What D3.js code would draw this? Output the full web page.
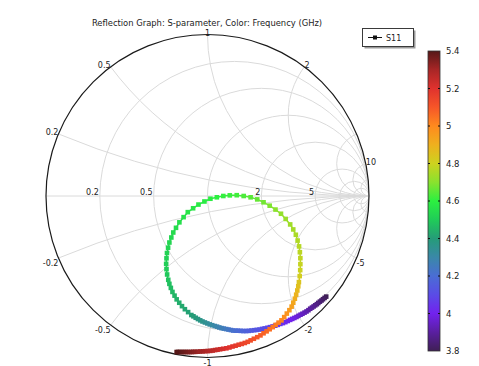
<!DOCTYPE html>
<html>
<head>
<meta charset="utf-8">
<script src="https://cdn.jsdelivr.net/npm/d3@7"></script>
<style>
  body { margin: 0; background: #fff; }
  text { font-family: "DejaVu Sans", sans-serif; fill: #222; }
</style>
</head>
<body>
<div id="chart"></div>
<script>
// frequency (GHz) of every sample
var freq = [
  3.800, 3.809, 3.819, 3.828, 3.837, 3.847, 3.856, 3.865, 3.874, 3.884,
  3.893, 3.904, 3.914, 3.925, 3.936, 3.947, 3.957, 3.968, 3.979, 3.989,
  4.000, 4.009, 4.019, 4.028, 4.038, 4.047, 4.057, 4.066, 4.076, 4.085,
  4.095, 4.104, 4.114, 4.123, 4.133, 4.142, 4.152, 4.161, 4.171, 4.180,
  4.189, 4.198, 4.208, 4.219, 4.229, 4.240, 4.251, 4.261, 4.272, 4.283,
  4.293, 4.305, 4.316, 4.328, 4.340, 4.351, 4.363, 4.374, 4.386, 4.397,
  4.404, 4.411, 4.419, 4.427, 4.435, 4.443, 4.450, 4.458, 4.466, 4.474,
  4.482, 4.491, 4.501, 4.506, 4.512, 4.518, 4.523, 4.529, 4.534, 4.540,
  4.545, 4.552, 4.559, 4.566, 4.573, 4.580, 4.587, 4.593, 4.600, 4.607,
  4.614, 4.622, 4.635, 4.648, 4.661, 4.674, 4.687, 4.700, 4.713, 4.724,
  4.733, 4.741, 4.749, 4.757, 4.765, 4.773, 4.781, 4.789, 4.797, 4.816,
  4.840, 4.857, 4.874, 4.892, 4.908, 4.924, 4.940, 4.956, 4.971, 4.988,
  5.003, 5.015, 5.026, 5.038, 5.050, 5.062, 5.073, 5.085, 5.097, 5.109,
  5.121, 5.131, 5.141, 5.151, 5.161, 5.171, 5.182, 5.192, 5.202, 5.215,
  5.227, 5.237, 5.247, 5.257, 5.267, 5.276, 5.286, 5.296, 5.306, 5.316,
  5.325, 5.333, 5.340, 5.348, 5.355, 5.363, 5.370, 5.378, 5.385, 5.393,
  5.400
];
// S11 reflection coefficient, real and imaginary parts
var s11Re = [
  0.735, 0.725, 0.715, 0.706, 0.696, 0.686, 0.677, 0.667, 0.657, 0.647,
  0.636, 0.625, 0.613, 0.601, 0.588, 0.576, 0.563, 0.551, 0.538, 0.525,
  0.512, 0.497, 0.482, 0.467, 0.451, 0.435, 0.419, 0.403, 0.387, 0.371,
  0.354, 0.338, 0.322, 0.305, 0.289, 0.272, 0.255, 0.239, 0.222, 0.206,
  0.189, 0.174, 0.159, 0.145, 0.130, 0.116, 0.101, 0.087, 0.073, 0.059,
  0.045, 0.029, 0.014, -0.001, -0.016, -0.031, -0.045, -0.059, -0.073, -0.087,
  -0.100, -0.120, -0.140, -0.158, -0.175, -0.191, -0.204, -0.217, -0.227, -0.236,
  -0.243, -0.250, -0.254, -0.256, -0.254, -0.251, -0.244, -0.236, -0.224, -0.212,
  -0.195, -0.174, -0.148, -0.122, -0.089, -0.056, -0.019, 0.018, 0.058, 0.098,
  0.138, 0.181, 0.224, 0.267, 0.308, 0.347, 0.385, 0.421, 0.455, 0.484,
  0.512, 0.531, 0.547, 0.558, 0.567, 0.572, 0.575, 0.575, 0.574, 0.571,
  0.566, 0.562, 0.556, 0.549, 0.541, 0.531, 0.521, 0.507, 0.491, 0.475,
  0.458, 0.440, 0.422, 0.404, 0.385, 0.366, 0.347, 0.328, 0.308, 0.287,
  0.267, 0.249, 0.231, 0.212, 0.193, 0.174, 0.155, 0.136, 0.117, 0.097,
  0.078, 0.062, 0.047, 0.032, 0.017, 0.001, -0.014, -0.030, -0.045, -0.061,
  -0.076, -0.088, -0.099, -0.111, -0.123, -0.135, -0.146, -0.158, -0.170, -0.182,
  -0.191
];
var s11Im = [
  -0.623, -0.631, -0.639, -0.647, -0.654, -0.662, -0.670, -0.677, -0.684, -0.691,
  -0.698, -0.707, -0.715, -0.722, -0.729, -0.735, -0.742, -0.749, -0.755, -0.761,
  -0.767, -0.774, -0.781, -0.787, -0.792, -0.798, -0.803, -0.808, -0.812, -0.816,
  -0.820, -0.823, -0.827, -0.829, -0.831, -0.833, -0.835, -0.836, -0.836, -0.835,
  -0.834, -0.834, -0.833, -0.830, -0.827, -0.824, -0.821, -0.818, -0.814, -0.809,
  -0.805, -0.800, -0.795, -0.789, -0.783, -0.777, -0.770, -0.762, -0.754, -0.745,
  -0.737, -0.719, -0.701, -0.682, -0.661, -0.640, -0.617, -0.594, -0.569, -0.544,
  -0.519, -0.486, -0.453, -0.420, -0.386, -0.353, -0.320, -0.288, -0.257, -0.226,
  -0.197, -0.163, -0.131, -0.100, -0.076, -0.053, -0.034, -0.017, -0.008, 0.000,
  0.004, 0.005, 0.000, -0.008, -0.021, -0.039, -0.060, -0.084, -0.110, -0.142,
  -0.176, -0.207, -0.240, -0.276, -0.312, -0.348, -0.385, -0.422, -0.459, -0.496,
  -0.533, -0.559, -0.585, -0.611, -0.636, -0.661, -0.685, -0.707, -0.728, -0.750,
  -0.770, -0.784, -0.798, -0.812, -0.825, -0.838, -0.850, -0.863, -0.874, -0.884,
  -0.894, -0.903, -0.910, -0.916, -0.921, -0.927, -0.932, -0.938, -0.943, -0.946,
  -0.949, -0.952, -0.954, -0.957, -0.959, -0.960, -0.961, -0.962, -0.963, -0.964,
  -0.965, -0.965, -0.966, -0.966, -0.966, -0.966, -0.966, -0.966, -0.966, -0.966,
  -0.966
];

// Smith chart grid values and the labels that are shown
var resistanceValues = [0.2, 0.5, 1, 2, 5, 10, 20];
var reactanceValues = [0.2, 0.5, 1, 2, 5, 10, 20];
var realAxisLabels = [0.2, 0.5, 2, 5];
var reactanceLabels = [0.2, 0.5, 1, 2, 10, -0.2, -0.5, -1, -2, -5];
var colorTicks = [3.8, 4, 4.2, 4.4, 4.6, 4.8, 5, 5.2, 5.4];

// colour table (frequency -> colour)
var cmapFreq = [3.8, 3.9, 4.0, 4.1, 4.2, 4.3, 4.4, 4.5, 4.6, 4.7, 4.8, 4.9, 5.0, 5.1, 5.2, 5.3, 5.4];
var cmapColor = ["#3f1f55", "#5a1fa0", "#7222ee", "#5a4ce6", "#4a6dd4", "#3a88a8", "#259c78", "#20cc58",
  "#2cf040", "#8ae22e", "#cdd21f", "#eeb01e", "#ff8a1e", "#f65628", "#e0322e", "#a82626", "#561818"];

var svgWidth = 479;
var svgHeight = 366;
var cx = 207.5, cy = 196, R = 161.5;

var svg = d3.select("#chart")
  .append("svg")
  .attr("width", svgWidth)
  .attr("height", svgHeight);

var xScale = d3.scaleLinear().domain([-1, 1]).range([cx - R, cx + R]);
var yScale = d3.scaleLinear().domain([-1, 1]).range([cy + R, cy - R]);
var rScale = d3.scaleLinear().domain([0, 1]).range([0, R]);

var color = d3.scaleLinear().domain(cmapFreq).range(cmapColor).interpolate(d3.interpolateRgb);

// title
svg.append("text")
  .attr("x", 207)
  .attr("y", 26)
  .attr("text-anchor", "middle")
  .style("font-size", "8.4px")
  .text("Reflection Graph: S-parameter, Color: Frequency (GHz)");

svg.append("clipPath")
  .attr("id", "unit")
  .append("circle")
  .attr("cx", xScale(0))
  .attr("cy", yScale(0))
  .attr("r", rScale(1));

var grid = svg.append("g")
  .attr("clip-path", "url(#unit)")
  .attr("fill", "none")
  .attr("stroke", "#dadada")
  .attr("stroke-width", 1);

// real axis
grid.append("line")
  .attr("x1", xScale(-1)).attr("x2", xScale(1))
  .attr("y1", yScale(0)).attr("y2", yScale(0));

// constant resistance circles
grid.selectAll(".rcirc")
  .data(resistanceValues)
  .enter()
  .append("circle")
  .attr("cx", d => xScale(d / (1 + d)))
  .attr("cy", yScale(0))
  .attr("r", d => rScale(1 / (1 + d)));

// constant reactance arcs (both signs)
var xs = reactanceValues.concat(reactanceValues.map(d => -d));
grid.selectAll(".xcirc")
  .data(xs)
  .enter()
  .append("circle")
  .attr("cx", xScale(1))
  .attr("cy", d => yScale(1 / d))
  .attr("r", d => rScale(1 / Math.abs(d)));

// outer boundary
svg.append("circle")
  .attr("cx", xScale(0))
  .attr("cy", yScale(0))
  .attr("r", rScale(1))
  .attr("fill", "none")
  .attr("stroke", "#1a1a1a")
  .attr("stroke-width", 1.2);

// labels on the real axis
svg.selectAll(".rlab")
  .data(realAxisLabels)
  .enter()
  .append("text")
  .attr("x", d => xScale((d - 1) / (d + 1)) - 1)
  .attr("y", yScale(0) - 1)
  .attr("text-anchor", "end")
  .style("font-size", "8px")
  .text(d => d);

// reactance labels round the edge
svg.selectAll(".xlab")
  .data(reactanceLabels)
  .enter()
  .append("text")
  .attr("x", function(d) {
    return xScale((d * d - 1) / (d * d + 1));
  })
  .attr("y", function(d) {
    var py = yScale(2 * d / (d * d + 1));
    return d > 0 ? py + 1 : py + 8;
  })
  .attr("text-anchor", function(d) {
    var re = (d * d - 1) / (d * d + 1);
    if (re < -0.05) return "end";
    if (re > 0.05) return "start";
    return "middle";
  })
  .style("font-size", "8px")
  .text(d => d);

// S11 trace: thin coloured line plus square markers
var pts = freq.map(function(f, i) {
  return { f: f, re: s11Re[i], im: s11Im[i] };
});

var trace = svg.append("g");
trace.selectAll("line")
  .data(pts.slice(1))
  .enter()
  .append("line")
  .attr("x1", (d, i) => xScale(pts[i].re))
  .attr("y1", (d, i) => yScale(pts[i].im))
  .attr("x2", d => xScale(d.re))
  .attr("y2", d => yScale(d.im))
  .attr("stroke", (d, i) => color((d.f + pts[i].f) / 2))
  .attr("stroke-width", 1.5);

var ms = 4.6;
trace.selectAll("rect")
  .data(pts)
  .enter()
  .append("rect")
  .attr("x", d => xScale(d.re) - ms / 2)
  .attr("y", d => yScale(d.im) - ms / 2)
  .attr("width", ms)
  .attr("height", ms)
  .attr("fill", d => color(d.f));

// legend
var legend = svg.append("g");
legend.append("rect")
  .attr("x", 364.5).attr("y", 30.5)
  .attr("width", 51).attr("height", 18)
  .attr("fill", "#9a9a9a");
legend.append("rect")
  .attr("x", 362.5).attr("y", 28.5)
  .attr("width", 51).attr("height", 18)
  .attr("fill", "#fff")
  .attr("stroke", "#3a3a3a")
  .attr("stroke-width", 1);
legend.append("line")
  .attr("x1", 368).attr("x2", 382)
  .attr("y1", 37.5).attr("y2", 37.5)
  .attr("stroke", "#111")
  .attr("stroke-width", 1);
legend.append("rect")
  .attr("x", 373).attr("y", 35.5)
  .attr("width", 4).attr("height", 4)
  .attr("fill", "#111");
legend.append("text")
  .attr("x", 386)
  .attr("y", 40.5)
  .style("font-size", "8px")
  .text("S11");

// colour bar
var cbX = 428, cbW = 12;
var cbScale = d3.scaleLinear().domain([3.8, 5.4]).range([351, 51]);

var grad = svg.append("defs")
  .append("linearGradient")
  .attr("id", "cbar")
  .attr("x1", "0").attr("y1", "1")
  .attr("x2", "0").attr("y2", "0");
grad.selectAll("stop")
  .data(cmapFreq)
  .enter()
  .append("stop")
  .attr("offset", d => (d - 3.8) / 1.6)
  .attr("stop-color", d => color(d));

svg.append("rect")
  .attr("x", cbX)
  .attr("y", cbScale(5.4))
  .attr("width", cbW)
  .attr("height", cbScale(3.8) - cbScale(5.4))
  .attr("fill", "url(#cbar)")
  .attr("stroke", "#333")
  .attr("stroke-width", 0.8);

var cbTicks = svg.append("g");
cbTicks.selectAll(".tl")
  .data(colorTicks.slice(1, -1))
  .enter()
  .append("line")
  .attr("x1", cbX).attr("x2", cbX + 2)
  .attr("y1", d => cbScale(d)).attr("y2", d => cbScale(d))
  .attr("stroke", "#111");
cbTicks.selectAll(".tr")
  .data(colorTicks.slice(1, -1))
  .enter()
  .append("line")
  .attr("x1", cbX + cbW - 2).attr("x2", cbX + cbW)
  .attr("y1", d => cbScale(d)).attr("y2", d => cbScale(d))
  .attr("stroke", "#111");
cbTicks.selectAll("text")
  .data(colorTicks)
  .enter()
  .append("text")
  .attr("x", 446)
  .attr("y", d => cbScale(d) + 3)
  .style("font-size", "8.5px")
  .text(d => d);
</script>
</body>
</html>
